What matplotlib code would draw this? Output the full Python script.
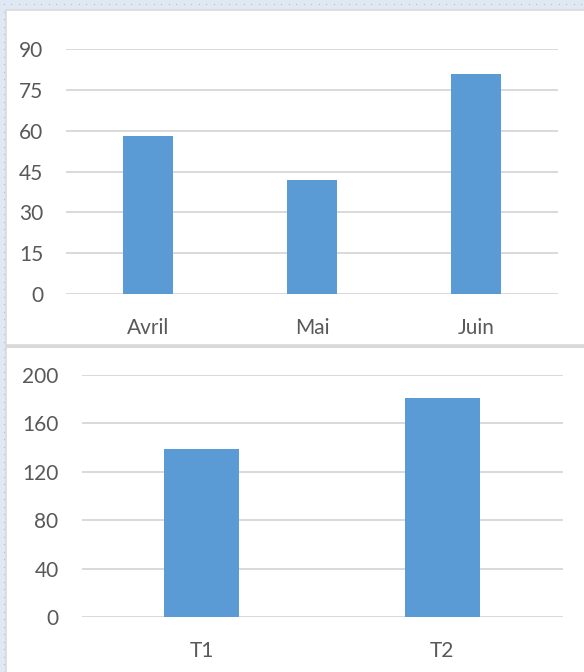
import numpy as np
import matplotlib
matplotlib.use('Agg')
import matplotlib.pyplot as plt
from matplotlib.patches import Rectangle

# -------------------------------------------------------------------------
# 데이터
# -------------------------------------------------------------------------
MONTHS = ['Avril', 'Mai', 'Juin']
MONTH_VALUES = [58, 42, 81]
MONTH_TICKS = [0, 15, 30, 45, 60, 75, 90]

QUARTERS = ['T1', 'T2']
QUARTER_VALUES = [139, 181]
QUARTER_TICKS = [0, 40, 80, 120, 160, 200]

BAR_COLOR = '#5b9bd5'
GRID_COLOR = '#d9d9d9'
TEXT_COLOR = '#595959'
BG_COLOR = '#dfe8f3'
DOT_COLOR = '#b3c1d2'

W, H = 584, 672
plt.rcParams['font.family'] = ['Lato', 'DejaVu Sans']

fig = plt.figure(figsize=(W / 100, H / 100), dpi=100)

# ---- 배경 (점무늬 파란 바탕 + 흰 패널) ----
bg = fig.add_axes([0, 0, 1, 1])
bg.set_xlim(0, W)
bg.set_ylim(H, 0)
bg.axis('off')
bg.add_patch(Rectangle((0, 0), W, H, facecolor=BG_COLOR, edgecolor='none'))
xs, ys = np.meshgrid(np.arange(3.5, W, 7.5), np.arange(4, H, 7.5))
bg.scatter(xs.ravel(), ys.ravel(), s=0.8, color=DOT_COLOR, linewidths=0)
bg.add_patch(Rectangle((6, 10), W, 335, facecolor='white', edgecolor=GRID_COLOR, linewidth=1.2))
bg.add_patch(Rectangle((6, 346), W, H, facecolor='white', edgecolor=GRID_COLOR, linewidth=1.2))
bg.plot([6, W], [345.5, 345.5], color=GRID_COLOR, linewidth=2.2)


def bar_panel(rect, cats, values, ticks):
    ax = fig.add_axes(rect)
    x = np.arange(len(cats))
    ax.bar(x, values, width=0.31, color=BAR_COLOR, zorder=3)
    ax.set_xlim(-0.5, len(cats) - 0.5)
    ax.set_ylim(ticks[0], ticks[-1])
    ax.set_yticks(ticks)
    ax.set_xticks(x)
    ax.set_xticklabels(cats)
    ax.grid(axis='y', color=GRID_COLOR, linewidth=1.4, zorder=0)
    ax.set_facecolor('none')
    for s in ax.spines.values():
        s.set_visible(False)
    ax.tick_params(axis='y', length=0, pad=16.5, labelsize=15, labelcolor=TEXT_COLOR)
    ax.tick_params(axis='x', length=0, pad=17, labelsize=15, labelcolor=TEXT_COLOR)
    ax.set_axisbelow(True)
    return ax


bar_panel([66 / W, 1 - 294 / H, 492 / W, 245 / H], MONTHS, MONTH_VALUES, MONTH_TICKS)
bar_panel([81.5 / W, 1 - 617 / H, 481 / W, 242 / H], QUARTERS, QUARTER_VALUES, QUARTER_TICKS)

plt.savefig('out.png', dpi=100)
plt.close()
